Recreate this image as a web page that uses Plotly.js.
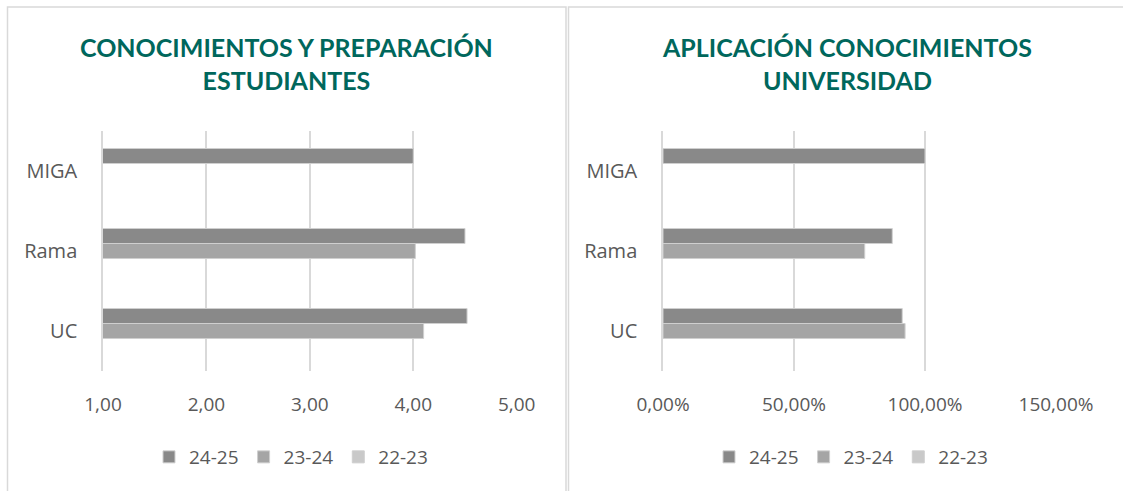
<!DOCTYPE html>
<html>
<head>
<meta charset="utf-8">
<script src="https://cdn.plot.ly/plotly-3.0.1.min.js"></script>
<style>
html,body{margin:0;padding:0;background:#fff;}
#chart{width:1123px;height:491px;}
</style>
</head>
<body>
<div id="chart"></div>
<script>
// Data
const categories = ['MIGA', 'Rama', 'UC'];
const seriesNames = ['24-25', '23-24', '22-23'];
// Left chart: Conocimientos y preparación estudiantes (scale 1-5)
const conoc_2425 = [4.00, 4.50, 4.52];
const conoc_2324 = [null, 4.02, 4.10];
const conoc_2223 = [null, null, null];
// Right chart: Aplicación conocimientos universidad (fraction)
const aplic_2425 = [1.00, 0.875, 0.913];
const aplic_2324 = [null, 0.770, 0.924];
const aplic_2223 = [null, null, null];
const leftTicks = [1, 2, 3, 4, 5];
const rightTicks = [0, 0.5, 1, 1.5];
const titleLeft = 'CONOCIMIENTOS Y PREPARACIÓN<br>ESTUDIANTES';
const titleRight = 'APLICACIÓN CONOCIMIENTOS<br>UNIVERSIDAD';

const colors = ['#898989', '#a5a5a5', '#c9c9c9'];
const W = 1123, H = 491;
const px = v => v / W;
const py = v => 1 - v / H;

function mk(x, name, i, xa, ya, leg) {
  return {
    type: 'bar', orientation: 'h', y: categories, x: x, name: name,
    xaxis: xa, yaxis: ya, legend: leg,
    marker: {color: colors[i], line: {color: '#cfcfcf', width: 1}},
    hoverinfo: 'x+y+name'
  };
}

const leftVals = [conoc_2425, conoc_2324, conoc_2223];
const rightVals = [aplic_2425, aplic_2324, aplic_2223];
const data = [];
leftVals.forEach((v, i) => data.push(mk(v, seriesNames[i], i, 'x', 'y', 'legend')));
rightVals.forEach((v, i) => data.push(mk(v, seriesNames[i], i, 'x2', 'y2', 'legend2')));

const tickFont = {family: 'Open Sans, sans-serif', size: 19, color: '#595959'};
const catFont = {family: 'Open Sans, sans-serif', size: 20, color: '#595959'};
const gridColor = '#d9d9d9';

function yax(anchor) {
  return {
    type: 'category', categoryorder: 'array', categoryarray: categories,
    autorange: 'reversed', domain: [py(371), py(131)], anchor: anchor,
    showgrid: false, showline: true, linecolor: gridColor, linewidth: 1.5,
    ticks: '', tickfont: catFont, ticklabelstandoff: 20, fixedrange: true
  };
}

const legendBase = {
  orientation: 'h', xanchor: 'center', yanchor: 'middle', y: py(457),
  font: {family: 'Open Sans, sans-serif', size: 19, color: '#595959'},
  bgcolor: 'rgba(0,0,0,0)', itemclick: false, itemdoubleclick: false,
  traceorder: 'normal', itemwidth: 30
};

const frameLine = {color: '#d9d9d9', width: 1.5};

const layout = {
  width: W, height: H,
  margin: {l: 0, r: 0, t: 0, b: 0},
  paper_bgcolor: '#ffffff', plot_bgcolor: '#ffffff',
  separators: ',.',
  barmode: 'group', bargap: 0.4375, bargroupgap: 0,
  showlegend: true,
  xaxis: {
    domain: [px(103), px(516.7)], range: [1, 5], tickvals: leftTicks,
    tickformat: '.2f', anchor: 'y', showgrid: true, gridcolor: gridColor, gridwidth: 1.5,
    zeroline: false, showline: false, ticks: '', tickfont: tickFont,
    ticklabelstandoff: 20, fixedrange: true
  },
  yaxis: yax('x'),
  xaxis2: {
    domain: [px(663), px(1056)], range: [0, 1.5], tickvals: rightTicks,
    tickformat: '.2%', anchor: 'y2', showgrid: true, gridcolor: gridColor, gridwidth: 1.5,
    zeroline: false, showline: false, ticks: '', tickfont: tickFont,
    ticklabelstandoff: 20, fixedrange: true
  },
  yaxis2: yax('x2'),
  legend: Object.assign({}, legendBase, {x: px(291)}),
  legend2: Object.assign({}, legendBase, {x: px(851)}),
  annotations: [
    {text: '<b>' + titleLeft + '</b>', xref: 'paper', yref: 'paper', x: px(286), y: py(63),
     xanchor: 'center', yanchor: 'middle', showarrow: false,
     font: {family: 'Lato, sans-serif', size: 25, color: '#00675c'}},
    {text: '<b>' + titleRight + '</b>', xref: 'paper', yref: 'paper', x: px(847), y: py(63),
     xanchor: 'center', yanchor: 'middle', showarrow: false,
     font: {family: 'Lato, sans-serif', size: 25, color: '#00675c'}}
  ],
  shapes: [
    {type: 'rect', xref: 'paper', yref: 'paper', x0: px(7.5), x1: px(566), y0: py(495), y1: py(7), line: frameLine},
    {type: 'rect', xref: 'paper', yref: 'paper', x0: px(568.5), x1: px(1130), y0: py(495), y1: py(7), line: frameLine}
  ]
};

Plotly.newPlot('chart', data, layout, {displayModeBar: false, staticPlot: false});
</script>
</body>
</html>
